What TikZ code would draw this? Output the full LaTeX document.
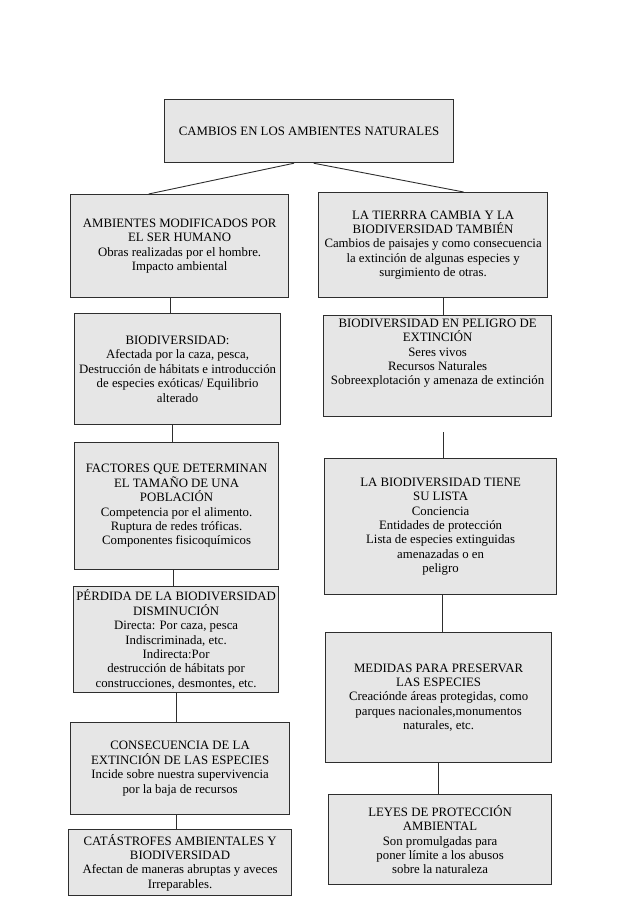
\documentclass[tikz,border=0pt]{standalone}
\usepackage{fontspec}
\setmainfont{Liberation Serif}
\usepackage{tikz}
\usetikzlibrary{calc,positioning}
\definecolor{boxfill}{HTML}{E6E6E6}
\definecolor{boxline}{HTML}{2E2E2E}

\begin{document}
\begin{tikzpicture}[x=1pt, y=-1pt,
  box/.style={draw=boxline, fill=boxfill, line width=1.2pt, inner sep=0pt,
    align=center, anchor=north west, font=\fontsize{12.8}{14.4}\selectfont},
  link/.style={draw=boxline, line width=0.9pt}]
  \useasboundingbox (0,0) rectangle (638,903);
  % title
  \node[box, minimum width=289pt, minimum height=63pt] (top) at (164,99)
    {CAMBIOS EN LOS AMBIENTES NATURALES};
  % left column
  \node[box, minimum width=218pt, minimum height=103pt] (hum) at (70,194)
    {AMBIENTES MODIFICADOS POR\\EL SER HUMANO\\Obras realizadas por el hombre.\\Impacto ambiental};
  \node[box, minimum width=206pt, minimum height=111pt] (bio) at (74,313)
    {BIODIVERSIDAD:\\Afectada por la caza, pesca,\\Destrucción de hábitats e introducción\\de especies exóticas/ Equilibrio\\alterado};
  \node[box, minimum width=204pt, minimum height=127pt] (fac) at (74,442)
    {FACTORES QUE DETERMINAN\\EL TAMAÑO DE UNA\\POBLACIÓN\\Competencia por el alimento.\\Ruptura de redes tróficas.\\Componentes fisicoquímicos};
  \node[box, minimum width=205pt, minimum height=106pt] (per) at (73,586)
    {PÉRDIDA DE LA BIODIVERSIDAD\\DISMINUCIÓN\\Directa: Por caza, pesca\\Indiscriminada, etc.\\Indirecta:Por\\destrucción de hábitats por\\construcciones, desmontes, etc.};
  \node[box, minimum width=219pt, minimum height=92pt] (con) at (70,722)
    {CONSECUENCIA DE LA\\EXTINCIÓN DE LAS ESPECIES\\Incide sobre nuestra supervivencia\\por la baja de recursos};
  \node[box, minimum width=223pt, minimum height=66pt] (cat) at (68,829)
    {CATÁSTROFES AMBIENTALES Y\\BIODIVERSIDAD\\Afectan de maneras abruptas y aveces\\Irreparables.};
  % right column
  \node[box, minimum width=229pt, minimum height=105pt] (tie) at (318,192)
    {LA TIERRRA CAMBIA Y LA\\BIODIVERSIDAD TAMBIÉN\\Cambios de paisajes y como consecuencia\\la extinción de algunas especies y\\surgimiento de otras.};
  \node[box, minimum width=228pt, minimum height=101pt] (pel) at (323,315)
    {BIODIVERSIDAD EN PELIGRO DE\\EXTINCIÓN\\Seres vivos\\Recursos Naturales\\Sobreexplotación y amenaza de extinción\\[14.2pt]\mbox{}};
  \node[box, minimum width=232pt, minimum height=136pt] (lis) at (324,458)
    {LA BIODIVERSIDAD TIENE\\SU LISTA\\Conciencia\\Entidades de protección\\Lista de especies extinguidas\\amenazadas o en\\peligro};
  \node[box, minimum width=226pt, minimum height=130pt] (med) at (325,632)
    {MEDIDAS PARA PRESERVAR\\LAS ESPECIES\\Creaciónde áreas protegidas, como\\parques nacionales,monumentos\\naturales, etc.};
  \node[box, minimum width=223pt, minimum height=90pt] (ley) at (328,794)
    {LEYES DE PROTECCIÓN\\AMBIENTAL\\Son promulgadas para\\poner límite a los abusos\\sobre la naturaleza};
  \coordinate (gap) at (443,432);
  % connectors
  \draw[link] ([xshift=-15pt]top.south) -- ([xshift=-31pt]hum.north);
  \draw[link] ([xshift=4.5pt]top.south) -- ([xshift=30.5pt]tie.north);
  \draw[link] ([xshift=-9pt]hum.south) -- ([xshift=-9pt]hum.south |- bio.north);
  \draw[link] ([xshift=-5pt]bio.south) -- ([xshift=-5pt]bio.south |- fac.north);
  \draw[link] ([xshift=-3pt]fac.south) -- ([xshift=-3pt]fac.south |- per.north);
  \draw[link] (per.south) -- (per.south |- con.north);
  \draw[link] ([xshift=-4pt]con.south) -- ([xshift=-4pt]con.south |- cat.north);
  \draw[link] ([xshift=10.5pt]tie.south) -- ([xshift=10.5pt]tie.south |- pel.north);
  \draw[link] (gap) -- (gap |- lis.north);
  \draw[link] ([xshift=2pt]lis.south) -- ([xshift=2pt]lis.south |- med.north);
  \draw[link] (med.south) -- (med.south |- ley.north);
\end{tikzpicture}
\end{document}
